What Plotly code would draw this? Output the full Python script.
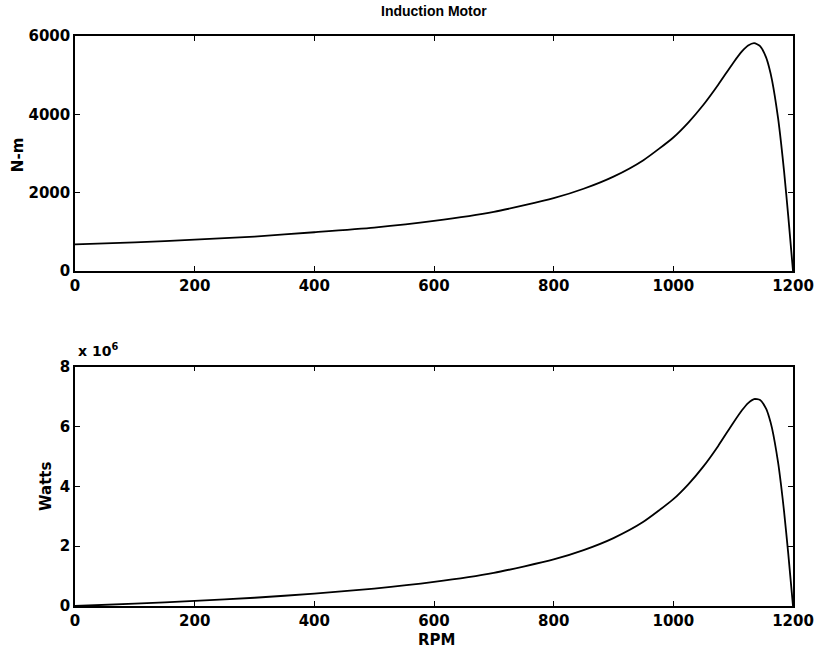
import plotly.graph_objects as go
from plotly.subplots import make_subplots

# Data
rpm = [0, 100, 200, 300, 400, 500, 600, 700, 800, 850, 900, 950, 1000, 1025, 1050,
       1075, 1100, 1115, 1125, 1135, 1145, 1155, 1160, 1165, 1175, 1180, 1185, 1192, 1200]
torque_nm = [680, 730, 800, 880, 990, 1110, 1280, 1510, 1860, 2100, 2410, 2830, 3410, 3790, 4237,
             4755, 5313, 5612, 5759, 5820, 5743, 5454, 5204, 4868, 3909, 3280, 2557, 1416, 0]
power_scaled = [0, 0.076, 0.168, 0.276, 0.415, 0.581, 0.804, 1.107, 1.558, 1.869, 2.271, 2.815, 3.571, 4.068, 4.659,
                5.353, 6.120, 6.553, 6.785, 6.918, 6.886, 6.597, 6.321, 5.939, 4.810, 4.053, 3.173, 1.768, 0]

x_ticks = [0, 200, 400, 600, 800, 1000, 1200]
torque_ticks = [0, 2000, 4000, 6000]
power_ticks = [0, 2, 4, 6, 8]

TICK_FAMILY = "DejaVu Sans, sans-serif"
TITLE_FAMILY = "Liberation Sans, Arial, sans-serif"
TICKFONT = dict(family=TICK_FAMILY, size=15, color="black", weight="bold")
LABELFONT = dict(family=TICK_FAMILY, size=15, color="black", weight="bold")

fig = make_subplots(rows=2, cols=1)
fig.add_trace(go.Scatter(x=rpm, y=torque_nm, mode="lines",
                         line=dict(color="black", width=1.8, shape="spline", smoothing=0.6),
                         showlegend=False), row=1, col=1)
fig.add_trace(go.Scatter(x=rpm, y=power_scaled, mode="lines",
                         line=dict(color="black", width=1.8, shape="spline", smoothing=0.6),
                         showlegend=False), row=2, col=1)

axis_common = dict(showline=True, linecolor="black", linewidth=1.5, mirror="ticks", ticks="inside",
                   ticklen=5, tickwidth=1.2, tickcolor="black", showgrid=False, zeroline=False,
                   automargin=False, tickfont=TICKFONT)

fig.update_xaxes(range=[0, 1200], tickvals=x_ticks, **axis_common)
fig.update_yaxes(range=[0, 6000], tickvals=torque_ticks, row=1, col=1, **axis_common)
fig.update_yaxes(range=[0, 8], tickvals=power_ticks, row=2, col=1, **axis_common)

fig.update_layout(
    width=816, height=655,
    margin=dict(l=75, r=23, t=36, b=49, autoexpand=False),
    paper_bgcolor="white", plot_bgcolor="white",
    yaxis=dict(domain=[0.5877, 1.0]),
    yaxis2=dict(domain=[0.0, 0.4198]),
    xaxis=dict(anchor="y"), xaxis2=dict(anchor="y2"),
    annotations=[
        dict(text="Induction Motor", x=0.5, y=1.0439, xref="paper", yref="paper", xanchor="center", yanchor="middle",
             showarrow=False, font=dict(family=TITLE_FAMILY, size=14, color="black", weight="bold")),
        dict(text="N-m", x=0, y=0.791, xref="paper", yref="paper", xanchor="center", yanchor="middle",
             xshift=-57, textangle=-90, showarrow=False, font=LABELFONT),
        dict(text="Watts", x=0, y=0.2088, xref="paper", yref="paper", xanchor="center", yanchor="middle",
             xshift=-29, textangle=-90, showarrow=False, font=LABELFONT),
        dict(text="RPM", x=0.503, y=-0.0596, xref="paper", yref="paper", xanchor="center", yanchor="middle",
             showarrow=False, font=LABELFONT),
        dict(text="x 10<sup>6</sup>", x=0.0014, y=0.4298, xref="paper", yref="paper", xanchor="left", yanchor="bottom",
             showarrow=False, font=dict(family=TICK_FAMILY, size=14, color="black", weight="bold")),
    ],
)

fig.write_html("out.html", config={"displayModeBar": False},
               post_script="document.body.style.margin='0';document.documentElement.style.overflow='hidden';")
